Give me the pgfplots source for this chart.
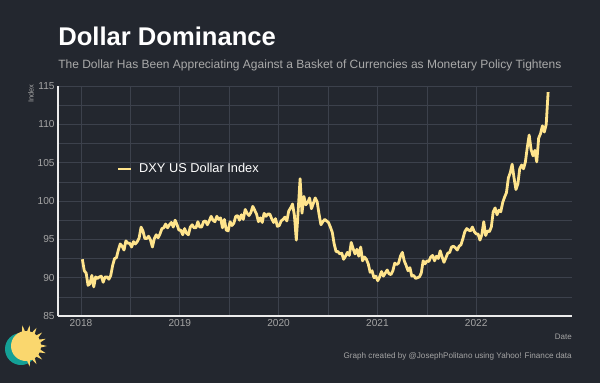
\documentclass[border=0pt]{standalone}
\usepackage{pgfplots}
\pgfplotsset{compat=1.18}
\usepackage{pgfplotstable}
\usetikzlibrary{calc}
\usepackage{fontspec}
\setmainfont{Liberation Sans}
\definecolor{bg}{RGB}{35,39,47}
\definecolor{gridc}{RGB}{60,65,76}
\definecolor{ticktxt}{RGB}{165,165,165}
\definecolor{subt}{RGB}{170,170,170}
\definecolor{dxy}{RGB}{255,228,140}
\definecolor{teal}{RGB}{20,160,150}
\definecolor{sun}{RGB}{250,215,110}
\pgfplotstableread{
y
92.4
90.9
90.6
89.0
89.2
90.3
88.8
90.1
89.9
90.1
90.2
89.4
90.1
90.1
89.8
90.3
91.6
92.5
92.6
93.6
94.4
94.1
93.6
94.8
94.5
94.5
94.0
94.7
94.4
94.7
95.2
96.6
96.1
95.1
95.1
95.4
94.9
94.0
95.1
95.6
95.2
95.7
96.4
96.5
97.0
96.5
96.9
97.2
96.6
97.5
96.9
96.2
96.2
95.6
96.4
95.8
95.6
96.6
96.9
96.5
96.5
97.3
96.6
96.6
97.3
97.4
96.9
97.4
98.0
97.5
97.3
98.0
97.6
97.8
96.5
97.6
96.2
96.1
97.3
96.8
97.1
98.0
98.1
97.5
98.2
97.6
98.9
98.4
98.1
98.5
99.3
98.8
98.3
97.3
97.8
97.2
98.4
98.0
98.3
98.3
97.7
97.2
97.7
96.7
96.8
97.4
97.6
97.9
97.4
98.7
99.1
99.6
98.1
94.9
98.8
102.9
98.4
100.6
99.5
99.8
100.4
99.0
99.7
100.4
99.9
98.3
96.9
97.3
97.6
97.4
97.2
96.6
95.9
94.4
93.4
93.4
93.1
93.2
92.4
92.8
93.3
92.9
94.6
93.8
93.1
93.7
92.8
94.0
92.2
92.7
92.4
91.8
90.7
90.9
90.0
90.2
89.6
90.1
90.8
90.2
90.6
91.0
90.5
90.4
90.9
91.9
91.7
91.9
92.8
93.3
92.2
91.6
90.9
91.3
90.2
90.3
89.9
90.0
90.1
90.6
92.2
91.8
92.2
92.1
92.7
92.9
92.2
92.8
92.5
93.5
92.7
92.0
92.6
93.2
93.3
94.0
94.1
93.9
93.6
94.1
94.3
95.1
96.0
96.4
96.2
96.1
96.6
96.0
95.7
95.7
94.9
95.6
97.3
95.5
96.1
96.0
96.6
98.6
99.1
98.2
98.8
98.6
99.8
100.5
101.1
103.0
103.7
104.8
103.0
101.5
102.2
104.2
104.7
104.2
105.1
107.0
108.6
106.7
105.9
106.6
105.1
108.2
108.8
109.8
109.0
110.0
114.2
}\dxydata
\begin{document}
\begin{tikzpicture}[x=0.75pt,y=0.75pt]
\fill[bg] (0,0) rectangle (600,383);
\useasboundingbox (0,0) rectangle (600,383);
% titles
\node[anchor=base west, inner sep=0pt, text=white, font=\fontsize{19.2}{22}\selectfont\bfseries] at (58,383-46) {Dollar Dominance};
\node[anchor=base west, inner sep=0pt, text=subt, font=\fontsize{9.0}{10}\selectfont] at (58,383-68) {The Dollar Has Been Appreciating Against a Basket of Currencies as Monetary Policy Tightens};
\node[anchor=east, rotate=90, inner sep=0pt, text=ticktxt, font=\fontsize{5.6}{6}\selectfont] at (31,383-84) {Index};
\node[anchor=base east, inner sep=0pt, text=ticktxt, font=\fontsize{6}{7}\selectfont] at (572,383-339) {Date};
\node[anchor=base east, inner sep=0pt, text=ticktxt, font=\fontsize{6.1}{7}\selectfont] at (572,383-358) {Graph created by @JosephPolitano using Yahoo! Finance data};
% logo
\fill[teal] (21,383-349) circle (16);
\fill[sun] (26,383-346) circle (15);
\foreach \a in {-80,-60,...,100} {
  \fill[sun] ($(26,383-346)+(\a-7:14)$) -- ($(26,383-346)+(\a:21)$) -- ($(26,383-346)+(\a+7:14)$) -- cycle;
}
\begin{axis}[
  at={(43.5pt,50.25pt)}, anchor=south west,
  scale only axis, width=385.5pt, height=172.5pt,
  xmin=2017.767, xmax=2022.97, ymin=85, ymax=115,
  xtick={2018,2019,2020,2021,2022}, minor x tick num=1,
  ytick={85,90,...,115}, minor y tick num=1,
  grid=both,
  major grid style={draw=gridc, line width=0.5pt},
  minor grid style={draw=gridc, line width=0.4pt},
  axis x line*=bottom, axis y line*=left,
  axis line style={draw=white!85!gray, line width=1.3pt, -},
  major tick length=0pt, minor tick length=0pt,
  tick label style={text=ticktxt, font=\fontsize{7.6}{9}\selectfont},
  /pgf/number format/assume math mode=true,
  /pgf/number format/1000 sep={},
  xticklabel style={yshift=1pt},
  yticklabel style={xshift=1pt},
  legend style={at={(0.114,0.639)}, anchor=west, draw=none, fill=none, text=white,
    font=\fontsize{9.6}{11}\selectfont, inner sep=0pt},
  legend image code/.code={\draw[#1, line width=2pt] (0pt,0pt) -- (9.75pt,0pt);},
  axis background/.style={fill=bg},
]
\addplot[dxy, line width=2.1pt, line join=round] table[x expr=2018.0137+\coordindex*0.019165, y=y] {\dxydata};
\addlegendentry{\hspace{3pt}DXY US Dollar Index}
\end{axis}
\end{tikzpicture}
\end{document}
